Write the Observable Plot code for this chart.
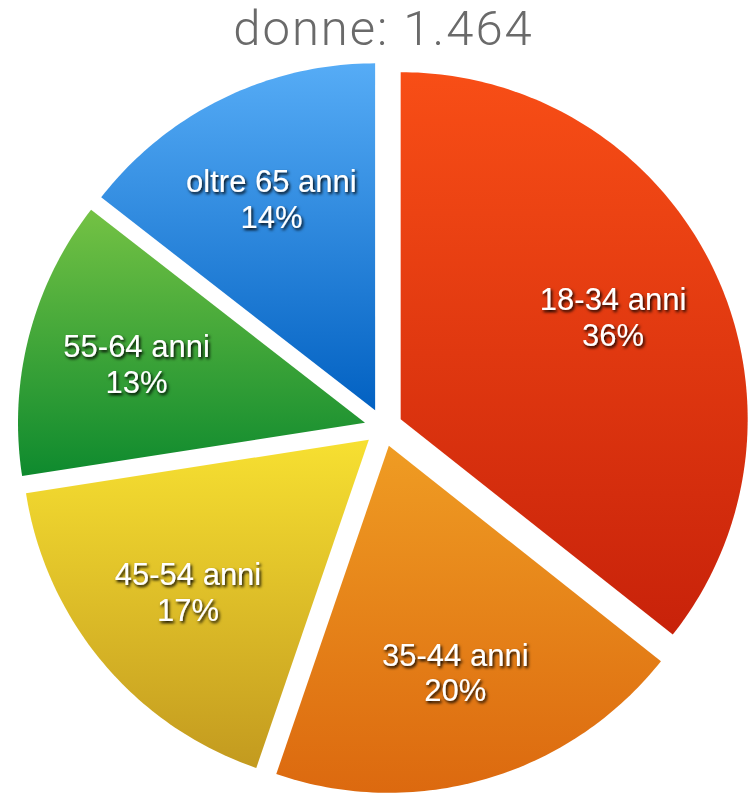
<!DOCTYPE html>
<html><head><meta charset="utf-8">
<script src="https://cdn.jsdelivr.net/npm/d3@7"></script>
<script src="https://cdn.jsdelivr.net/npm/@observablehq/plot@0.6"></script>
<style>
html,body{margin:0;padding:0;background:#fff;}
#title{width:753px;height:58px;line-height:58px;text-align:center;font-family:"Roboto","Lato",sans-serif;font-weight:300;font-size:49px;letter-spacing:2px;color:#6a6a6a;position:relative;left:7px;white-space:nowrap;overflow:visible;}
#chart svg{display:block;}
</style></head><body>
<div id="title">donne: 1.464</div>
<div id="chart"></div>
<script>
const categories = ["18-34 anni", "35-44 anni", "45-54 anni", "55-64 anni", "oltre 65 anni"];
const values = [522, 287, 253, 190, 212];
const percentLabels = ["36%", "20%", "17%", "13%", "14%"];
const topColors = ["#f84e16", "#ef9c23", "#f7e031", "#74c244", "#56acf6"];
const bottomColors = ["#c8220a", "#dc690f", "#c39a1f", "#0e8a2e", "#0261c2"];

const explode = 0.055, labelR = 0.68;
const arcs = d3.pie().sort(null).value(d => d)(values);

const slices = arcs.map((a, i) => {
  const mid = (a.startAngle + a.endAngle) / 2;
  const ax = explode * Math.sin(mid), ay = explode * Math.cos(mid);
  const n = Math.max(8, Math.ceil((a.endAngle - a.startAngle) * 60));
  const pts = [{x: ax, y: ay}];
  for (let k = 0; k <= n; k++) {
    const t = a.startAngle + (a.endAngle - a.startAngle) * k / n;
    pts.push({x: ax + Math.sin(t), y: ay + Math.cos(t)});
  }
  return pts;
});

const labelData = arcs.map((a, i) => {
  const mid = (a.startAngle + a.endAngle) / 2;
  const r = explode + labelR;
  return {x: r * Math.sin(mid), y: r * Math.cos(mid), text: categories[i] + "\n" + percentLabels[i]};
});

const svg = Plot.plot({
  width: 753,
  height: 738,
  margin: 0,
  x: {domain: [-1.1037, 1.0663], axis: null},
  y: {domain: [-1.0634, 1.0634], axis: null},
  marks: [
    ...slices.map((pts, i) => Plot.line(pts, {x: "x", y: "y", fill: `url(#grad${i})`, stroke: "none", curve: "linear-closed"})),
    Plot.text(labelData, {x: "x", y: "y", text: "text", fill: "white", fontSize: 31, lineHeight: 1.15, fontFamily: "'Liberation Sans', Arial, sans-serif"})
  ]
});

const ns = "http://www.w3.org/2000/svg";
const defs = document.createElementNS(ns, "defs");
topColors.forEach((c, i) => {
  const g = document.createElementNS(ns, "linearGradient");
  g.setAttribute("id", "grad" + i);
  g.setAttribute("x1", "0"); g.setAttribute("y1", "0");
  g.setAttribute("x2", "0"); g.setAttribute("y2", "1");
  const s0 = document.createElementNS(ns, "stop");
  s0.setAttribute("offset", "0"); s0.setAttribute("stop-color", c);
  const s1 = document.createElementNS(ns, "stop");
  s1.setAttribute("offset", "1"); s1.setAttribute("stop-color", bottomColors[i]);
  g.append(s0, s1);
  defs.append(g);
});
const f = document.createElementNS(ns, "filter");
f.setAttribute("id", "ts");
f.setAttribute("x", "-20%"); f.setAttribute("y", "-20%");
f.setAttribute("width", "140%"); f.setAttribute("height", "140%");
const ds = document.createElementNS(ns, "feDropShadow");
ds.setAttribute("dx", "1.5"); ds.setAttribute("dy", "2");
ds.setAttribute("stdDeviation", "1.4");
ds.setAttribute("flood-color", "#000"); ds.setAttribute("flood-opacity", "1");
f.append(ds);
defs.append(f);
svg.insertBefore(defs, svg.firstChild);
d3.select(svg).selectAll('g[aria-label="text"]').attr("filter", "url(#ts)");
document.getElementById("chart").append(svg);
</script>
</body></html>
